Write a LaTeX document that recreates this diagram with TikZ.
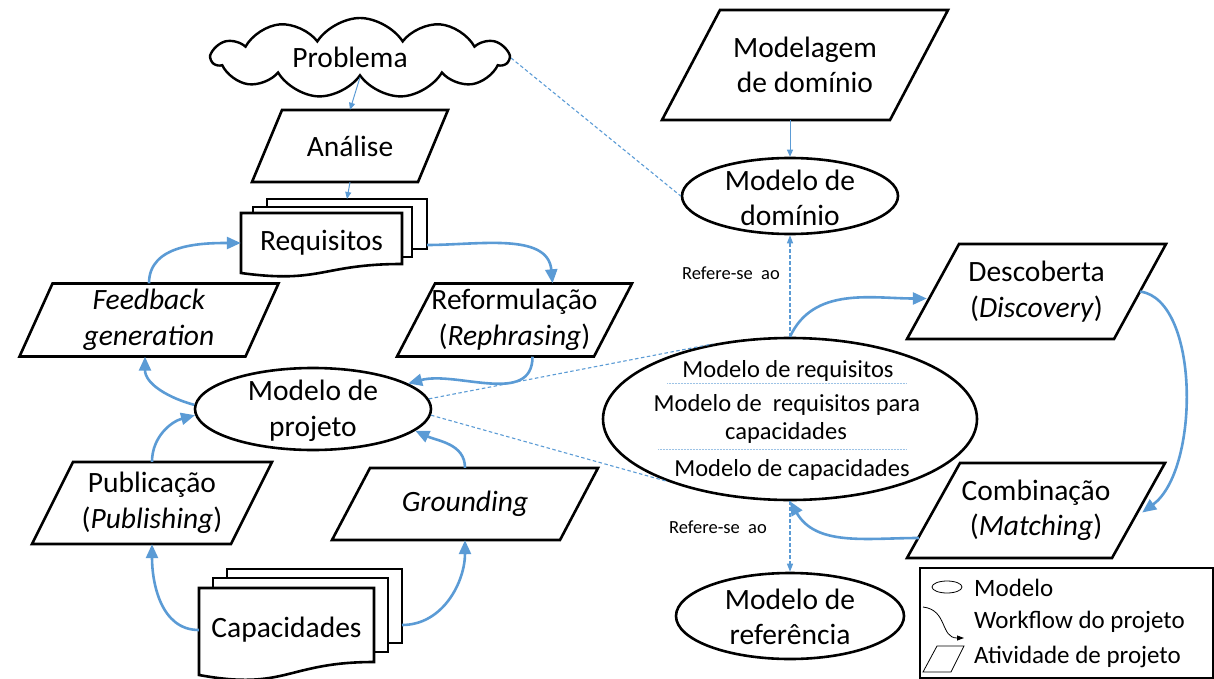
\documentclass[tikz,border=0pt]{standalone}
\usepackage{fontspec}
\setmainfont{Carlito}
\usetikzlibrary{shapes.geometric,shapes.symbols,arrows.meta,calc}
\definecolor{flow}{HTML}{5B9BD5}
\definecolor{sepc}{HTML}{9DC3E6}
\tikzset{
  shp/.style={draw=black, line width=2.6pt, fill=white},
  flowarr/.style={draw=flow, line width=2.6pt, -{Triangle[length=14pt,width=12pt]}},
  thinarr/.style={draw=flow, line width=1pt, -{Triangle[length=7pt,width=6pt]}},
  refline/.style={draw=flow, line width=1.1pt, dash pattern=on 3.5pt off 2.5pt},
  reftip/.style={-{Triangle[length=8pt,width=6pt]}},
  sepline/.style={draw=sepc, line width=0.9pt, dash pattern=on 1pt off 0.5pt},
  maintxt/.style={font=\fontsize{29.5}{35.5}\selectfont, align=center, inner sep=0pt},
  bigtxt/.style={font=\fontsize{24.5}{28}\selectfont, anchor=base, inner sep=0pt},
  reftxt/.style={font=\fontsize{18.5}{21}\selectfont, inner sep=0pt},
  legtxt/.style={font=\fontsize{25}{28}\selectfont, anchor=west, inner sep=0pt},
  ell/.style={shp, ellipse, inner sep=0pt},
}
\newcommand\mypara[7]{% name, cx, cy, edge width, height, slant offset, text
  \draw[shp] ({#2-#4/2+#6/2},{#3-#5/2}) -- ({#2+#4/2+#6/2},{#3-#5/2})
     -- ({#2+#4/2-#6/2},{#3+#5/2}) -- ({#2-#4/2-#6/2},{#3+#5/2}) -- cycle;
  \node[maintxt, minimum width={#4+#6}, minimum height=#5] (#1) at (#2,#3) {#7};
}
\begin{document}
\begin{tikzpicture}[x=1pt,y=-1pt]
\useasboundingbox (0,0) rectangle (1214,679);

% ---------- cloud ----------
\node[cloud, draw, line width=2.4pt, fill=white, cloud puffs=11, cloud puff arc=115,
      cloud ignores aspect, minimum width=296pt, minimum height=80pt, inner sep=0pt]
      (prob) at (360,58) {};
\node[maintxt] (probt) at (350,57) {Problema};

% ---------- parallelograms ----------
\mypara{ana}{350}{146}{166}{72}{30}{Análise}
\mypara{feed}{149}{320}{226}{73}{33}{\textit{Feedback}\\\textit{generation}}
\mypara{refo}{514.5}{320}{197}{73}{38}{Reformulação\\(\textit{Rephrasing})}
\mypara{pub}{152}{503}{199}{82}{41}{Publicação\\(\textit{Publishing})}
\mypara{grnd}{465}{504}{228}{72}{38}{\textit{Grounding}}
\mypara{modg}{805}{65}{228}{110}{58}{Modelagem\\de domínio}
\mypara{desc}{1036.5}{291.5}{207}{95}{52}{Descoberta\\(\textit{Discovery})}
\mypara{comb}{1036}{510.5}{205}{95}{53}{Combinação\\(\textit{Matching})}

% ---------- multi documents ----------
\filldraw[shp] (267,199) rectangle (427,249);
\filldraw[shp] (253,207) rectangle (412,257);
\filldraw[shp] (241,213) -- (402,213) -- (402,264)
   .. controls (321.5,264) and (321.5,284) .. (241,273) -- cycle;
\node[maintxt, minimum width=161pt, minimum height=56pt] (req) at (321.5,243) {Requisitos};
\coordinate (reqR) at (427,245);
\coordinate (reqT) at (347,199);

\filldraw[shp] (227,569) rectangle (402,643);
\filldraw[shp] (213,578) rectangle (388,652);
\filldraw[shp] (199,588) -- (374,588) -- (374,662)
   .. controls (286.5,662) and (286.5,691) .. (199,675) -- cycle;
\node[maintxt, minimum width=175pt, minimum height=80pt] (cap) at (286.5,630) {Capacidades};
\coordinate (capR) at (402,625);

% ---------- ellipses ----------
\node[ell, minimum width=236pt, minimum height=82pt] (proj) at (313,409) {};
\node[maintxt] at (313,411) {Modelo de\\projeto};
\node[ell, minimum width=216pt, minimum height=76pt] (dom) at (790,196) {};
\node[maintxt] at (790,198) {Modelo de\\domínio};
\node[ell, minimum width=228pt, minimum height=86pt] (ref) at (790,616) {};
\node[maintxt] at (790,617) {Modelo de\\referência};
\node[ell, minimum width=374pt, minimum height=162pt] (big) at (790,419) {};
\node[bigtxt] (b1) at (788,377) {Modelo de requisitos};
\node[bigtxt] (b2) at (787,411) {Modelo de\ \ requisitos para};
\node[bigtxt] (b3) at (786,439) {capacidades};
\node[bigtxt] (b4) at (792,476) {Modelo de capacidades};
\draw[sepline] (667,383) -- (907,383);
\draw[sepline] (658,449) -- (906,449);

% ---------- thin arrows ----------
\draw[thinarr] (prob.south) -- (ana.north);
\draw[thinarr] (ana.south) -- (reqT);
\draw[thinarr] (dom.north |- modg.south) -- (dom.north);

% ---------- dashed references ----------
\draw[refline] (prob.east) -- (dom.west);
\draw[refline] (proj.5) -- (big.136);
\draw[refline] (proj.-3) -- (big.207);
\draw[refline, reftip] (big.north) -- (dom.south);
\draw[refline, reftip] (big.south) -- (ref.north);
\node[reftxt] (lab1) at (731,273) {Refere-se\ \ ao};
\node[reftxt] (lab2) at (718,527) {Refere-se\ \ ao};

% ---------- workflow arrows ----------
\draw[flowarr] (feed.north) to[out=90,in=180] (req.west);
\draw[flowarr] (reqR) to[out=0,in=95] ([xshift=38pt]refo.north);
\draw[flowarr] ([xshift=18pt]refo.south) to[out=-90,in=15] (proj.15);
\draw[flowarr] (proj.178) to[out=165,in=-90] ([xshift=-4pt]feed.south);
\draw[flowarr] (pub.north) to[out=90,in=195] (proj.183);
\draw[flowarr] (cap.west) to[out=180,in=-90] (pub.south);
\draw[flowarr] (capR) to[out=0,in=-90] (grnd.south);
\draw[flowarr] (grnd.north) to[out=90,in=-25] (proj.-12);
\draw[flowarr] (big.north) to[out=65,in=180] ([xshift=20pt,yshift=-7pt]desc.west);
\draw[flowarr] ([xshift=-26pt]desc.east) .. controls (1200,300) and (1200,470) .. ([xshift=-23pt,yshift=-2pt]comb.east);
\draw[flowarr] ([xshift=12pt,yshift=-27.5pt]comb.west) to[out=180,in=-60] (big.south);

% ---------- legend ----------
\draw[line width=1.3pt] (920,568) rectangle (1213,678);
\draw[line width=0.8pt] (947,587) ellipse [x radius=15pt, y radius=6pt];
\draw[line width=0.8pt, -{Triangle[length=7pt,width=5pt]}] (923,607) .. controls (948,610) and (940,638) .. (964,638);
\draw[line width=0.8pt] (937,646) -- (964,646) -- (951,672) -- (923,672) -- cycle;
\node[legtxt] (lg1) at (974,588) {Modelo};
\node[legtxt] (lg2) at (974,622) {Workflow do projeto};
\node[legtxt] (lg3) at (974,657) {Atividade de projeto};
\end{tikzpicture}
\end{document}
